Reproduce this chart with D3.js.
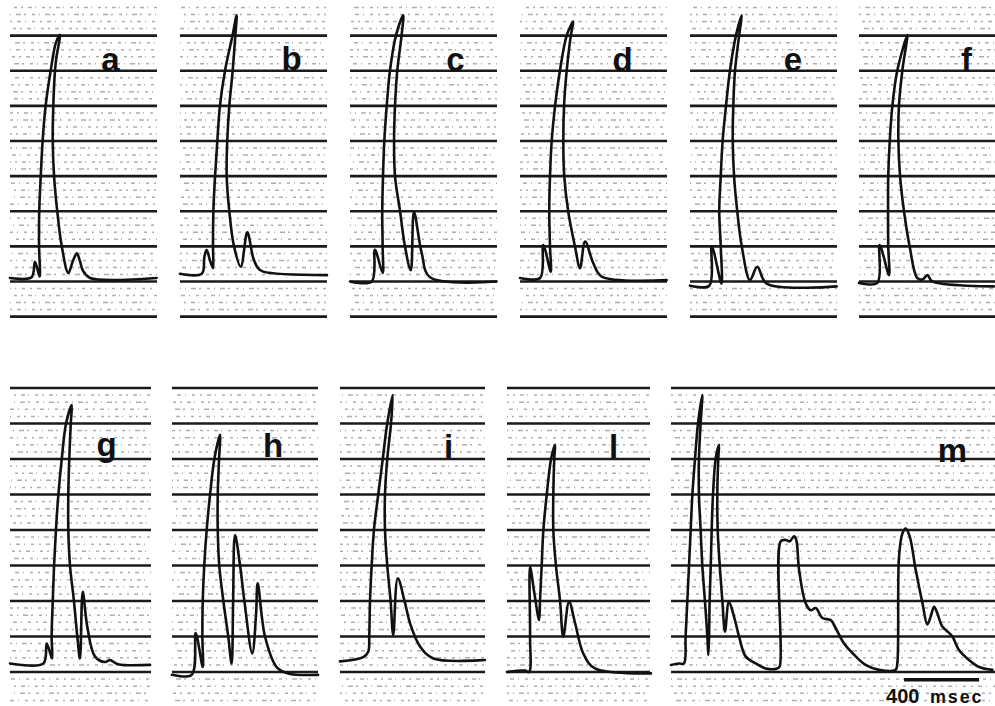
<!DOCTYPE html>
<html><head><meta charset="utf-8">
<script src="https://cdn.jsdelivr.net/npm/d3@7/dist/d3.min.js"></script>
<style>html,body{margin:0;padding:0;background:#fff}svg{display:block}</style>
</head><body>
<svg id="chart" width="995" height="706"></svg>
<script>
// ---------- DATA (time in ms from panel start, value in mm of chart paper) ----------
const panelLabels = ['a','b','c','d','e','f','g','h','i','l','m'];
const traceA = [[0,0.5],[115,0.6],[133,2.8],[158,0.7],[155,5],[156,10],[164,15],[174,20],[190,25],[217,30],[245,34],[267,35.1],[248,32],[240,30],[231,25],[228,20],[235,15],[252,10],[276,5],[311,1.2],[334,2.8],[356,4.0],[372,3.0],[388,1.6],[427,0.5],[782,0.5]];
const traceB = [[0,1.1],[116,1.1],[130,3.5],[142,4.5],[160,3.0],[176,1.9],[176,5],[178,10],[187,15],[199,20],[213,25],[240,30],[280,35],[302,37.9],[295,35],[281,30],[263,25],[252,20],[249,15],[263,10],[288,5],[324,2.1],[359,7.0],[391,3.3],[416,1.9],[444,1.4],[784,0.9]];
const traceC = [[0,0],[116,0],[133,4.5],[174,1.2],[174,5],[172,10],[176,15],[183,20],[196,25],[213,30],[245,35],[284,37.9],[275,35],[252,30],[240,25],[235,20],[240,15],[267,10],[293,5],[324,1.6],[341,9.9],[382,4.1],[427,0.6],[782,0]];
const traceD = [[0,0.5],[107,0.5],[124,5.2],[164,1.4],[160,5],[156,10],[160,15],[169,20],[187,25],[213,30],[249,35],[284,37.0],[271,35],[249,30],[235,25],[231,20],[236,15],[257,10],[293,5],[320,1.9],[347,5.7],[391,2.6],[436,0.7],[782,0.2]];
const traceE = [[0,-0.6],[103,-0.6],[116,5.0],[168,-0.3],[164,5],[156,10],[164,15],[174,20],[192,25],[213,30],[245,35],[276,37.9],[262,35],[240,30],[231,25],[228,20],[235,15],[252,10],[276,5],[320,0.2],[359,2.1],[409,-0.3],[782,-0.7]];
const traceF = [[0,-0.2],[98,-0.2],[110,5.2],[160,0.9],[156,5],[155,10],[156,15],[164,20],[178,25],[204,30],[258,35.1],[231,30],[213,25],[210,20],[219,15],[240,10],[270,5],[311,0.5],[340,0.3],[365,0.9],[391,0],[720,-0.7]];
const traceG = [[0,1.2],[178,1.2],[196,4.0],[224,1.9],[222,5],[228,10],[235,15],[245,20],[258,25],[276,30],[299,35],[329,37.6],[324,35],[316,30],[311,25],[311,20],[320,15],[341,10],[359,5],[373,1.9],[388,11.3],[412,6.4],[453,2.2],[507,1.4],[533,1.7],[576,1.1],[747,1.0]];
const traceH = [[0,-0.4],[105,-0.4],[126,5.5],[164,0.7],[162,5],[164,10],[172,15],[185,20],[203,25],[226,30],[256,33.4],[251,30],[244,25],[244,20],[252,15],[274,10],[300,5],[318,1.2],[326,10],[336,19.3],[363,15],[386,10],[428,2.6],[448,8],[457,12.5],[496,5],[558,0.7],[620,-0.2],[779,-0.4]];
const traceI = [[0,1.5],[124,2.1],[151,2.9],[156,5],[160,10],[169,15],[181,20],[204,25],[228,30],[252,35],[281,39.0],[272,35],[252,30],[240,25],[240,20],[252,15],[270,10],[284,5.2],[308,13.2],[347,9.7],[373,6.9],[427,3.6],[498,1.9],[773,1.7]];
const traceL = [[0,0],[96,0.2],[118,0],[123,5],[123,14.8],[146,11.1],[171,7.3],[176,10],[185,15],[194,20],[212,25],[235,30],[256,32.0],[252,30],[247,25],[247,20],[261,15],[283,10],[300,5.0],[331,9.9],[363,6.9],[407,2.6],[469,0.5],[768,-0.2]];
const traceM = [[0,1.0],[43,1.2],[69,1.2],[78,5],[87,10],[96,15],[105,20],[114,25],[128,30],[144,35],[167,39.0],[158,35],[149,30],[149,25],[158,20],[167,15],[181,10],[194,5],[199,2.4],[203,5],[206,10],[212,15],[217,20],[224,25],[238,30],[256,32.0],[252,30],[247,25],[249,20],[260,15],[274,10],[288,5.7],[309,9.9],[336,7.8],[363,5.0],[398,2.2],[452,1.2],[505,0.5],[567,0.5],[580,0.8],[585,18.4],[612,18.6],[633,18.4],[656,19.1],[668,18.6],[683,14.4],[718,9.7],[745,8.7],[772,9.0],[807,7.6],[852,7.3],[878,6.2],[923,4.0],[985,2.2],[1038,1.0],[1109,0.3],[1198,0.3],[1207,1.2],[1216,16.2],[1234,19.5],[1252,20.2],[1273,19.1],[1305,14.4],[1341,9.7],[1367,6.7],[1385,7.8],[1403,9.2],[1420,8.3],[1447,6.4],[1483,5.5],[1501,5.0],[1536,3.1],[1589,1.7],[1643,0.7],[1714,0.3]];
const traces = [traceA,traceB,traceC,traceD,traceE,traceF,traceG,traceH,traceI,traceL,traceM];
const scaleBarMs = 400;
const scaleBarStartMs = 1243;
const scaleBarText = ['400','msec'];

// ---------- LAYOUT ----------
const pxPerMs = 75/400;
const rowsLayout = [
  {domain:[-5,35], range:[316.6,35.6], majors:d3.range(-5,36,5), minors:d3.range(-4,40).filter(v=>v%5!==0)},
  {domain:[0,40],  range:[672,388],    majors:d3.range(0,41,5),  minors:d3.range(-4,40).filter(v=>v%5!==0)}
];
const panelBoxes = [
  {row:0,x:10,w:147,lx:110.5,ly:71},
  {row:0,x:180,w:147,lx:291.5,ly:70},
  {row:0,x:350,w:147,lx:455.5,ly:71},
  {row:0,x:520,w:147,lx:622.5,ly:71},
  {row:0,x:690,w:147,lx:793,ly:71},
  {row:0,x:859,w:136,lx:966.5,ly:71},
  {row:1,x:10,w:141,lx:106.5,ly:456},
  {row:1,x:172,w:146,lx:273,ly:457},
  {row:1,x:340,w:145,lx:448.5,ly:458},
  {row:1,x:507,w:143,lx:613.5,ly:458},
  {row:1,x:671,w:324,lx:952.5,ly:462}
];

const svg = d3.select('#chart');
const dashPatterns = ['2 5 4 4 1 6 3 5','3 4 1 5 5 3 2 6','1 6 3 4 2 5 4 3'];

panelLabels.forEach((lab,i)=>{
  const box = panelBoxes[i], row = rowsLayout[box.row];
  const xs = d3.scaleLinear().domain([0, box.w/pxPerMs]).range([box.x, box.x+box.w]);
  const ys = d3.scaleLinear().domain(row.domain).range(row.range);
  const g = svg.append('g').attr('class','panel-'+lab);
  const [x0,x1] = xs.range();
  // minor (dotted) lines
  g.selectAll('line.minor').data(row.minors).join('line')
    .attr('class','minor')
    .attr('x1',x0).attr('x2',x1)
    .attr('y1',d=>ys(d)).attr('y2',d=>ys(d))
    .attr('stroke','#7a7a7a').attr('stroke-width',1.5)
    .attr('stroke-dasharray',(d,j)=>dashPatterns[(j+i)%3])
    .attr('stroke-dashoffset',(d,j)=>(j*7+i*3)%11)
    .attr('opacity',0.6);
  // major lines
  g.selectAll('line.major').data(row.majors).join('line')
    .attr('class','major')
    .attr('x1',x0).attr('x2',x1)
    .attr('y1',d=>ys(d)).attr('y2',d=>ys(d))
    .attr('stroke','#1a1a1a').attr('stroke-width',2.6);
  // trace
  const line = d3.line().x(d=>xs(d[0])).y(d=>ys(d[1])).curve(d3.curveCatmullRom.alpha(0.5));
  g.append('path').datum(traces[i]).attr('d',line)
    .attr('fill','none').attr('stroke','#111').attr('stroke-width',2.6)
    .attr('stroke-linejoin','round').attr('stroke-linecap','round');
  // label
  g.append('text').attr('x',box.lx).attr('y',box.ly).attr('text-anchor','middle')
    .attr('font-family','"Liberation Sans", Arial, sans-serif').attr('font-weight','bold')
    .attr('font-size',33).attr('fill','#111').text(lab);
  // scale bar in panel m
  if (lab==='m') {
    g.append('line').attr('x1',xs(scaleBarStartMs)).attr('x2',xs(scaleBarStartMs+scaleBarMs))
      .attr('y1',ys(-1.1)).attr('y2',ys(-1.1)).attr('stroke','#111').attr('stroke-width',3.5);
    g.append('text').attr('x',xs(scaleBarStartMs)-18).attr('y',703)
      .attr('font-family','"Liberation Sans", Arial, sans-serif').attr('font-weight','bold')
      .attr('font-size',20).attr('fill','#111').text(scaleBarText[0]);
    g.append('text').attr('x',xs(scaleBarStartMs)+26).attr('y',703)
      .attr('font-family','"Liberation Sans", Arial, sans-serif').attr('font-weight','bold')
      .attr('font-size',18).attr('letter-spacing',1.8).attr('fill','#111').text(scaleBarText[1]);
  }
});
</script>
</body></html>
